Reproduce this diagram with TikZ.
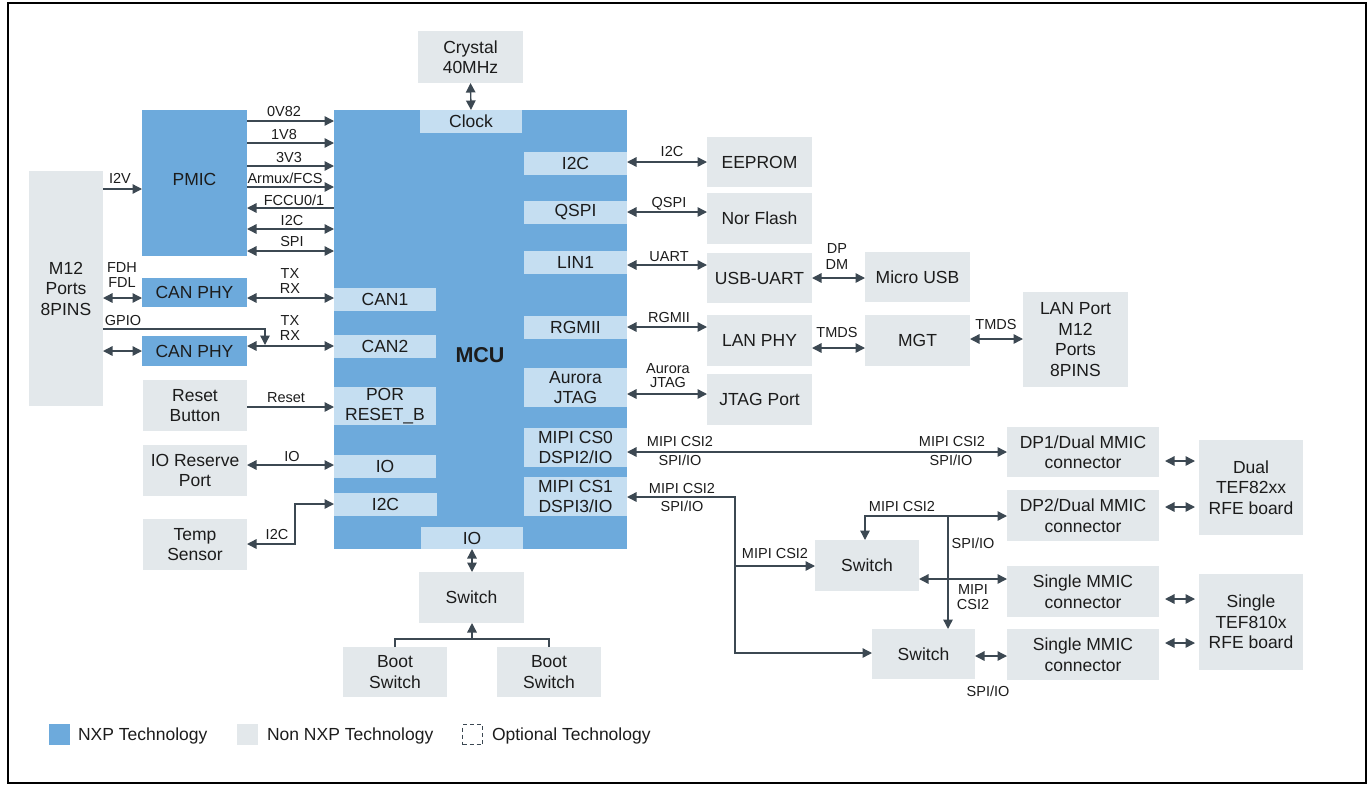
\documentclass[tikz,border=0pt]{standalone}
\usepackage{fontspec}
\setmainfont{Liberation Sans}
\usetikzlibrary{arrows.meta}
\definecolor{nxp}{HTML}{6DAADC}
\definecolor{cellc}{HTML}{C5DEF1}
\definecolor{nonnxp}{HTML}{E3E8EB}
\definecolor{wire}{HTML}{3C4852}
\definecolor{txt}{HTML}{1C1C1C}
\newcommand{\bx}[7]{\node[#6, minimum width={(#4-#2)*1pt}, minimum height={(#5-#3)*1pt}] (#1) at ({(#2+#4)/2},{(#3+#5)/2}) {#7};}
\begin{document}
\begin{tikzpicture}[x=1pt,y=-1pt,
 box/.style={inner sep=0pt, outer sep=0pt, align=center, font=\fontsize{17.5}{20.5}\selectfont, text=txt},
 nxpbox/.style={box, fill=nxp},
 grey/.style={box, fill=nonnxp},
 cellbox/.style={box, fill=cellc},
 wirel/.style={draw=wire, line width=1.4pt, >={Triangle[length=9.5pt,width=9.5pt]}},
 lbl/.style={inner sep=0pt, outer sep=0pt, align=center, font=\fontsize{14.5}{15}\selectfont, text=txt},
]
\useasboundingbox (0,0) rectangle (1368,785);
\draw[line width=2pt, black] (8,3) rectangle (1366,783);

% MCU and its cells
\bx{mcu}{334}{110}{627}{549}{nxpbox}{}
\node[box, font=\fontsize{21.5}{24}\selectfont\bfseries] (mculbl) at (480,355) {MCU};
\bx{clock}{420}{110}{522}{133}{cellbox}{Clock}
\bx{can1}{334}{288}{436}{311}{cellbox}{CAN1}
\bx{can2}{334}{335}{436}{358}{cellbox}{CAN2}
\bx{por}{334}{387}{436}{425}{cellbox}{POR\\RESET\_B}
\bx{io1}{334}{455}{436}{478}{cellbox}{IO}
\bx{i2cL}{334}{493}{437}{516}{cellbox}{I2C}
\bx{iob}{421}{527}{523}{549}{cellbox}{IO}
\bx{i2cR}{524}{152}{627}{175}{cellbox}{I2C}
\bx{qspi}{524}{201}{627}{224}{cellbox}{QSPI}
\bx{lin1}{524}{251}{627}{274}{cellbox}{LIN1}
\bx{rgmii}{524}{316}{627}{339}{cellbox}{RGMII}
\bx{aurora}{524}{368}{627}{407}{cellbox}{Aurora\\JTAG}
\bx{cs0}{524}{428}{627}{467}{cellbox}{MIPI CS0\\DSPI2/IO}
\bx{cs1}{524}{477}{627}{516}{cellbox}{MIPI CS1\\DSPI3/IO}

% left side
\bx{crystal}{418}{31}{523}{83}{grey}{Crystal\\40MHz}
\bx{pmic}{142}{110}{247}{256}{nxpbox}{}
\node[box] (pmiclbl) at (194.5,179) {PMIC};
\bx{m12}{29}{171}{103}{406}{grey}{M12\\Ports\\8PINS}
\bx{canphy1}{142}{278}{247}{307}{nxpbox}{CAN PHY}
\bx{canphy2}{142}{336}{247}{366}{nxpbox}{CAN PHY}
\bx{reset}{143}{380}{247}{431}{grey}{Reset\\Button}
\bx{iores}{143}{445}{247}{496}{grey}{IO Reserve\\Port}
\bx{temp}{143}{519}{247}{570}{grey}{Temp\\Sensor}
\bx{sw}{419}{572}{524}{623}{grey}{Switch}
\bx{boot1}{343}{647}{447}{697}{grey}{Boot\\Switch}
\bx{boot2}{497}{647}{601}{697}{grey}{Boot\\Switch}

% right side
\bx{eeprom}{707}{137}{812}{187}{grey}{EEPROM}
\bx{nor}{707}{193}{812}{244}{grey}{Nor Flash}
\bx{usbuart}{707}{253}{812}{303}{grey}{USB-UART}
\bx{microusb}{865}{252}{970}{302}{grey}{Micro USB}
\bx{lanphy}{707}{315}{812}{366}{grey}{LAN PHY}
\bx{mgt}{865}{315}{970}{366}{grey}{MGT}
\bx{lanport}{1023}{292}{1128}{387}{grey}{LAN Port\\M12\\Ports\\8PINS}
\bx{jtag}{707}{374}{812}{425}{grey}{JTAG Port}
\bx{dp1}{1007}{427}{1159}{477}{grey}{DP1/Dual MMIC\\connector}
\bx{dp2}{1007}{490}{1159}{541}{grey}{DP2/Dual MMIC\\connector}
\bx{single1}{1007}{566}{1159}{617}{grey}{Single MMIC\\connector}
\bx{single2}{1007}{629}{1159}{680}{grey}{Single MMIC\\connector}
\bx{sw1}{815}{540}{919}{591}{grey}{Switch}
\bx{sw2}{872}{629}{975}{679}{grey}{Switch}
\bx{tef82}{1199}{440}{1303}{535}{grey}{Dual\\TEF82xx\\RFE board}
\bx{tef810}{1199}{574}{1303}{670}{grey}{Single\\TEF810x\\RFE board}

% connectors left
\draw[wirel,<->] (crystal.south) -- (clock.north);
\draw[wirel,->] (pmic.east |- 0,121) -- (mcu.west |- 0,121);
\draw[wirel,->] (pmic.east |- 0,143) -- (mcu.west |- 0,143);
\draw[wirel,->] (pmic.east |- 0,166) -- (mcu.west |- 0,166);
\draw[wirel,->] (pmic.east |- 0,187) -- (mcu.west |- 0,187);
\draw[wirel,<-] (pmic.east |- 0,208) -- (mcu.west |- 0,208);
\draw[wirel,<->] (pmic.east |- 0,229) -- (mcu.west |- 0,229);
\draw[wirel,<->] (pmic.east |- 0,251) -- (mcu.west |- 0,251);
\node[lbl] (t0v82) at (284,112) {0V82};
\node[lbl] (t1v8) at (284,135) {1V8};
\node[lbl] (t3v3) at (289,158) {3V3};
\node[lbl] (tarm) at (285,178) {Armux/FCS};
\node[lbl] (tfccu) at (294,200) {FCCU0/1};
\node[lbl] (ti2cp) at (292,221) {I2C};
\node[lbl] (tspi) at (292,242) {SPI};

\draw[wirel,->] (m12.east |- 0,189) -- (pmic.west |- 0,189);
\node[lbl] (ti2v) at (120,178) {I2V};
\draw[wirel,<->] (m12.east |- 0,298) -- (canphy1.west |- 0,298);
\node[lbl] (tfdh) at (122,268) {FDH};
\node[lbl] (tfdl) at (122,283) {FDL};
\draw[wirel,<->] (canphy1.east |- 0,298) -- (can1.west |- 0,298);
\node[lbl] (ttx1) at (290,274) {TX};
\node[lbl] (trx1) at (290,289) {RX};
\draw[wirel,<->] (m12.east |- 0,351) -- (canphy2.west |- 0,351);
\draw[wirel,<->] (canphy2.east |- 0,346) -- (can2.west |- 0,346);
\node[lbl] (ttx2) at (290,321) {TX};
\node[lbl] (trx2) at (290,336) {RX};
\coordinate (gp) at (265,329);
\draw[wirel,->] (m12.east |- gp) -- (gp) -- (265,345);
\node[lbl] (tgpio) at (123,321) {GPIO};
\draw[wirel,->] (reset.east |- 0,407) -- (por.west |- 0,407);
\node[lbl] (treset) at (286,398) {Reset};
\draw[wirel,<->] (iores.east |- 0,465) -- (io1.west |- 0,465);
\node[lbl] (tio) at (292,457) {IO};
\draw[wirel,<->] (i2cL.west |- 0,504) -- (295,504) -- (295,544) -- (temp.east |- 0,544);
\node[lbl] (ti2ct) at (277,534) {I2C};
\draw[wirel,<->] (iob.south -| 472,0) -- (sw.north -| 472,0);
\coordinate (bt) at (472,639);
\draw[wirel] (boot1.north) -- (boot1.north |- bt) -- (boot2.north |- bt) -- (boot2.north);
\draw[wirel,->] (bt) -- (sw.south -| bt);

% connectors right
\draw[wirel,<->] (i2cR.east |- 0,162) -- (eeprom.west |- 0,162);
\node[lbl] (ti2ce) at (672,152) {I2C};
\draw[wirel,<->] (qspi.east |- 0,212) -- (nor.west |- 0,212);
\node[lbl] (tqspi) at (669,204) {QSPI};
\draw[wirel,<->] (lin1.east |- 0,265) -- (usbuart.west |- 0,265);
\node[lbl] (tuart) at (669,257) {UART};
\draw[wirel,<->] (usbuart.east |- 0,278) -- (microusb.west |- 0,278);
\node[lbl] (tdp) at (837,249) {DP};
\node[lbl] (tdm) at (837,265) {DM};
\draw[wirel,<->] (rgmii.east |- 0,327) -- (lanphy.west |- 0,327);
\node[lbl] (trgmii) at (669,318) {RGMII};
\draw[wirel,<->] (lanphy.east |- 0,348) -- (mgt.west |- 0,348);
\node[lbl] (ttmds1) at (837,333) {TMDS};
\draw[wirel,<->] (mgt.east |- 0,339) -- (lanport.west |- 0,339);
\node[lbl] (ttmds2) at (996,325) {TMDS};
\draw[wirel,<->] (aurora.east |- 0,394) -- (jtag.west |- 0,394);
\node[lbl] (taur) at (668,369) {Aurora};
\node[lbl] (tjtag) at (668,383) {JTAG};

\draw[wirel,<->] (cs0.east |- 0,452) -- (dp1.west |- 0,452);
\node[lbl] (tm1) at (680,442) {MIPI CSI2};
\node[lbl] (ts1) at (680,460) {SPI/IO};
\node[lbl] (tm2) at (952,442) {MIPI CSI2};
\node[lbl] (ts2) at (951,460) {SPI/IO};

\coordinate (c1) at (735,497);
\coordinate (c2) at (735,653);
\draw[wirel,<->] (cs1.east |- c1) -- (c1) -- (c2) -- (sw2.west |- c2);
\draw[wirel,->] (735,566) -- (sw1.west |- 0,566);
\node[lbl] (tm3) at (682,488) {MIPI CSI2};
\node[lbl] (ts3) at (682,506) {SPI/IO};
\node[lbl] (tm4) at (775,553) {MIPI CSI2};

\coordinate (jA) at (865,516);
\coordinate (jB) at (948,516);
\draw[wirel,<->] (jA |- sw1.north) -- (jA) -- (dp2.west |- jA);
\draw[wirel,->] (jB) -- (jB |- sw2.north);
\node[lbl] (tm5) at (902,506) {MIPI CSI2};
\node[lbl] (ts5) at (973,543) {SPI/IO};
\draw[wirel,<->] (sw1.east |- 0,579) -- (single1.west |- 0,579);
\node[lbl] (tm6) at (973,590) {MIPI};
\node[lbl] (tc6) at (973,604) {CSI2};
\draw[wirel,<->] (sw2.east |- 0,656) -- (single2.west |- 0,656);
\node[lbl] (ts7) at (988,691) {SPI/IO};

\draw[wirel,<->] ([xshift=6pt]dp1.east |- 0,461) -- ([xshift=-4pt]tef82.west |- 0,461);
\draw[wirel,<->] ([xshift=6pt]dp2.east |- 0,507) -- ([xshift=-4pt]tef82.west |- 0,507);
\draw[wirel,<->] ([xshift=6pt]single1.east |- 0,599) -- ([xshift=-4pt]tef810.west |- 0,599);
\draw[wirel,<->] ([xshift=6pt]single2.east |- 0,643) -- ([xshift=-4pt]tef810.west |- 0,643);

% legend
\node[fill=nxp, minimum size=21pt, inner sep=0pt] (lg1) at (59.5,734.5) {};
\node[box, anchor=west] (lg1t) at (78,736) {NXP Technology};
\node[fill=nonnxp, minimum size=21pt, inner sep=0pt] (lg2) at (247.5,734.5) {};
\node[box, anchor=west] (lg2t) at (267,736) {Non NXP Technology};
\node[draw=wire, dash pattern=on 4pt off 3pt, line width=1pt, minimum size=20pt, inner sep=0pt] (lg3) at (472.5,734.5) {};
\node[box, anchor=west] (lg3t) at (492,736) {Optional Technology};
\end{tikzpicture}
\end{document}
